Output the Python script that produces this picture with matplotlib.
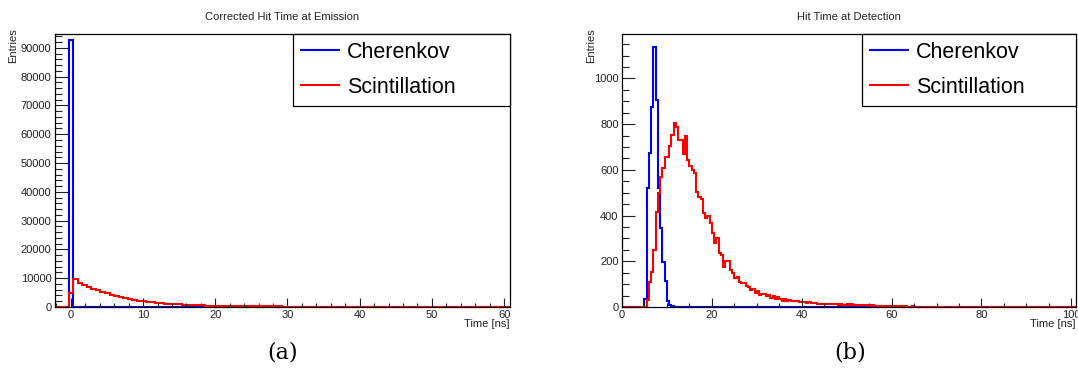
import numpy as np
import matplotlib
matplotlib.use('Agg')
import matplotlib.pyplot as plt
import matplotlib as mpl
from matplotlib.ticker import MultipleLocator
from matplotlib.lines import Line2D

# ---- data ----
# (a) corrected hit time at emission, 100 bins from -2.2 to 60.8 ns
emis_lo, emis_hi, emis_nbins = -2.2, 60.8, 100
emis_cherenkov = [0, 0, 0, 92700] + [0] * 96
emis_scint = [0, 0, 0, 5000,
              9600, 8450, 7750, 7050, 6400, 5800, 5250, 4700, 4200, 3800,
              3400, 3050, 2750, 2450, 2200, 1950, 1750, 1580, 1420, 1280,
              1160, 1050, 950, 870, 790, 720, 660, 610, 560, 520,
              480, 445, 410, 380, 355, 330, 310,
              290, 270, 255, 240, 225, 210, 198, 186, 175, 165,
              155, 146, 138, 130, 123, 116, 110, 104, 98, 93,
              88, 84, 80, 76, 72, 68, 65, 62, 59, 56,
              53, 51, 49, 47, 45, 43, 41, 39, 37, 35,
              34, 32, 31, 30, 28, 27, 26, 25, 24, 23,
              22, 21, 20, 19, 18, 18, 17, 16, 16]

# (b) hit time at detection, 0.5 ns bins from 0 to 101 ns
det_lo, det_hi, det_nbins = 0, 101, 202
det_cherenkov = ([0] * 10 +
                 [34, 520, 675, 875, 1137, 905, 520, 345, 195, 115, 28, 10, 3] +
                 [0] * 179)
det_scint = ([0] * 11 +
             [30, 108, 155, 249, 414, 500, 570, 609, 657, 657,
              704, 752, 806, 789, 730, 730, 669, 750, 642, 618,
              599, 585, 502, 483, 471, 410, 391, 400, 369, 322,
              279, 301, 238, 228, 176, 201, 201, 162, 147, 128,
              133, 111, 106, 106, 93, 86, 74, 77, 63, 70,
              52, 56, 56, 47, 52, 40, 47, 36, 45, 36,
              28, 34, 27, 32, 26, 28] +
             [25, 27, 22, 24, 20, 18, 21, 17, 16, 18, 14, 15, 13] +
             [14, 15, 12, 13, 11, 12, 10, 11, 9, 10] +
             [12, 10, 11, 9, 10, 8, 9, 8, 7, 8, 6, 7, 6, 5, 6, 5, 4, 5, 4, 4] +
             [4, 3, 4, 3, 3, 2, 3, 2, 2, 3, 2, 2, 1, 2, 1, 2, 1, 1, 1, 0] +
             [1, 1, 0, 1, 0, 0, 1, 0, 1, 0] + [0] * 52)

mpl.rcParams['font.family'] = ['Liberation Sans', 'DejaVu Sans']
mpl.rcParams['axes.linewidth'] = 0.9

fig = plt.figure(figsize=(10.78, 3.85), dpi=100)
fig.set_facecolor('white')


def draw_panel(ax, edges, blue, red, title, xlim, ylim, xmaj, xmin, ymaj, ymin, leg_x):
    ax.stairs(blue, edges, color='#0000ff', lw=1.5, baseline=0)
    ax.stairs(red, edges, color='#ff0000', lw=1.5, baseline=0)
    ax.set_xlim(*xlim)
    ax.set_ylim(*ylim)
    ax.xaxis.set_major_locator(MultipleLocator(xmaj))
    ax.xaxis.set_minor_locator(MultipleLocator(xmin))
    ax.yaxis.set_major_locator(MultipleLocator(ymaj))
    ax.yaxis.set_minor_locator(MultipleLocator(ymin))
    ax.tick_params(which='both', direction='in', top=False, right=False,
                   labelsize=8, width=0.8, colors='#222222')
    ax.tick_params(axis='y', which='major', length=9.4, pad=2.5)
    ax.tick_params(axis='y', which='minor', length=5)
    ax.tick_params(axis='x', which='major', length=6.5, pad=2)
    ax.tick_params(axis='x', which='minor', length=3.2)
    fig.text(ax.get_position().x0 + ax.get_position().width / 2, 0.956, title,
             ha='center', va='center', fontsize=8, color='#222222')
    ax.text(1.0, -0.045, 'Time [ns]', transform=ax.transAxes,
            ha='right', va='top', fontsize=8, color='#222222')
    handles = [Line2D([], [], color='#0000ff', lw=1.5, label='Cherenkov'),
               Line2D([], [], color='#ff0000', lw=1.5, label='Scintillation')]
    leg = ax.legend(handles=handles, loc='upper left',
                    bbox_to_anchor=(leg_x, 0, 1 - leg_x, 1.0), mode='expand',
                    borderaxespad=0, fancybox=False, edgecolor='black',
                    framealpha=1, fontsize=15.5, handlelength=1.77,
                    handletextpad=0.37, borderpad=0.36, labelspacing=0.66)
    leg.get_frame().set_linewidth(0.9)


# (a)
ax_a = fig.add_axes([0.051, 0.2026, 0.422, 0.709])
edges_a = np.linspace(emis_lo, emis_hi, emis_nbins + 1)
draw_panel(ax_a, edges_a, emis_cherenkov, emis_scint, 'Corrected Hit Time at Emission',
           (emis_lo, emis_hi), (0, 94800), 10, 2, 10000, 2000, 0.523)
ax_a.text(-0.092, 1.022, 'Entries', transform=ax_a.transAxes, rotation=90,
          ha='center', va='top', fontsize=8, color='#222222')

# (b)
ax_b = fig.add_axes([0.577, 0.2026, 0.421, 0.709])
edges_b = np.linspace(det_lo, det_hi, det_nbins + 1)
draw_panel(ax_b, edges_b, det_cherenkov, det_scint, 'Hit Time at Detection',
           (det_lo, det_hi), (0, 1194), 20, 5, 200, 50, 0.529)
ax_b.text(-0.068, 1.022, 'Entries', transform=ax_b.transAxes, rotation=90,
          ha='center', va='top', fontsize=8, color='#222222')

fig.text(0.262, 0.085, '(a)', ha='center', va='center', fontsize=16, family='DejaVu Serif')
fig.text(0.789, 0.085, '(b)', ha='center', va='center', fontsize=16, family='DejaVu Serif')

fig.savefig('out.png', dpi=100)
